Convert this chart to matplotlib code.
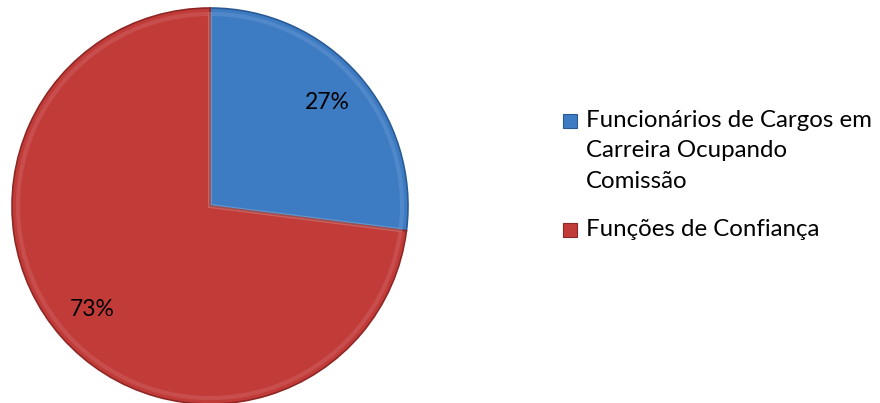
import textwrap
import matplotlib.pyplot as plt
from matplotlib.patches import Rectangle

plt.rcParams['font.family'] = ['Lato', 'DejaVu Sans']

categorias = ['Funcionários de Cargos em Carreira Ocupando Comissão', 'Funções de Confiança']
valores = [27, 73]
cores = ['#3D7BC3', '#C13B39']
bordas = ['#2A5A94', '#8E2624']

W, H = 880, 403
fig = plt.figure(figsize=(W / 100, H / 100), dpi=100)

# pie centre and radius in pixels
cx, cy, r = 210, 206, 198
ax = fig.add_axes([(cx - r) / W, (H - cy - r) / H, 2 * r / W, 2 * r / H])

wedges, texts, autotexts = ax.pie(
    valores, colors=cores, startangle=90, counterclock=False, radius=1,
    autopct='%1.0f%%', pctdistance=0.79,
    wedgeprops=dict(linewidth=1.2), textprops=dict(fontsize=16.5, color='black'))
for w, b in zip(wedges, bordas):
    w.set_edgecolor(b)

# subtle lighter bevel inside each slice
ax.pie(valores, colors=['white', 'white'], startangle=90, counterclock=False, radius=0.97,
       wedgeprops=dict(linewidth=3, edgecolor=(1, 1, 1, 0.10), fill=False))

ax.set_xlim(-1, 1)
ax.set_ylim(-1, 1)
ax.set_aspect('equal')
ax.axis('off')

# legend drawn by hand
y_pos = [121, 230]
for nome, cor, borda, yy in zip(categorias, cores, bordas, y_pos):
    linhas = textwrap.fill(nome, 25)
    fig.text(586 / W, 1 - (yy - 11) / H, linhas, fontsize=17.3, va='top', ha='left',
             linespacing=1.55)
    fig.add_artist(Rectangle(((563) / W, 1 - (yy + 7) / H), 14 / W, 14 / H,
                             transform=fig.transFigure, facecolor=cor,
                             edgecolor=borda, linewidth=0.8))

fig.savefig('out.png', dpi=100, facecolor='white')
